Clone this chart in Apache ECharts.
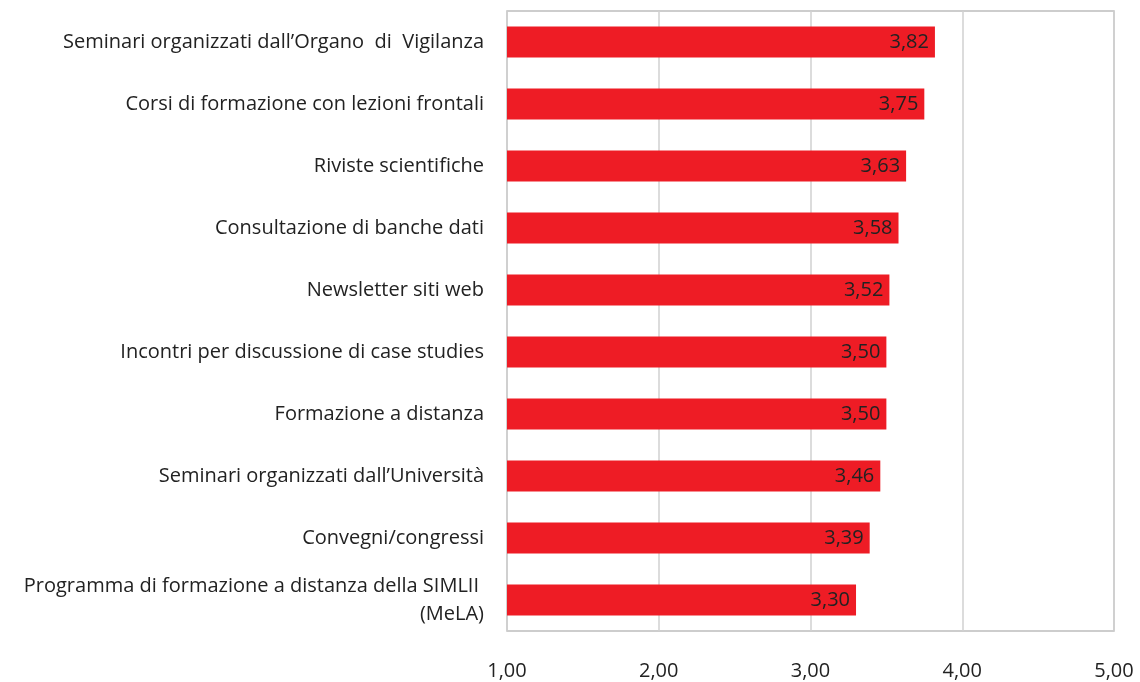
<!DOCTYPE html>
<html>
<head>
<meta charset="utf-8">
<script src="https://cdn.jsdelivr.net/npm/echarts@6/dist/echarts.min.js"></script>
<style>
  html, body { margin: 0; padding: 0; background: #fff; }
  #chart { width: 1140px; height: 682px; }
</style>
</head>
<body>
<div id="chart"></div>
<script>
const categories = [
  'Seminari organizzati dall’Organo  di  Vigilanza',
  'Corsi di formazione con lezioni frontali',
  'Riviste scientifiche',
  'Consultazione di banche dati',
  'Newsletter siti web',
  'Incontri per discussione di case studies',
  'Formazione a distanza',
  'Seminari organizzati dall’Università',
  'Convegni/congressi',
  'Programma di formazione a distanza della SIMLII\n(MeLA)'
]
const values = [3.82, 3.75, 3.63, 3.58, 3.52, 3.50, 3.50, 3.46, 3.39, 3.30]
const xTicks = { min: 1, max: 5, interval: 1 }

const fmt = v => v.toFixed(2).replace('.', ',')
const font = '"Open Sans", "Noto Sans", sans-serif'

// multi-line labels: the first line gets a bit of right padding so that
// both lines end at the same x
const catLabel = v => {
  const lines = v.split('\n')
  if (lines.length < 2) return v
  return '{a|' + lines[0] + '}\n{b|' + lines[1] + '}'
}

const chart = echarts.init(document.getElementById('chart'))
chart.setOption({
  animation: false,
  textStyle: { fontFamily: font },
  grid: {
    left: 507, right: 26, top: 11, bottom: 51,
    show: true, borderColor: '#bdbdbd', borderWidth: 1.5,
    containLabel: false
  },
  xAxis: {
    type: 'value',
    min: xTicks.min, max: xTicks.max, interval: xTicks.interval,
    axisLine: { show: false },
    axisTick: { show: false },
    splitLine: { lineStyle: { color: '#d0d0d0', width: 1.5 } },
    axisLabel: { formatter: fmt, color: '#222', fontSize: 20, margin: 30, fontFamily: font }
  },
  yAxis: {
    type: 'category',
    inverse: true,
    data: categories,
    axisLine: { show: false },
    axisTick: { show: false },
    axisLabel: {
      color: '#222', fontSize: 20, margin: 23, lineHeight: 28, fontFamily: font,
      formatter: catLabel,
      rich: {
        a: { fontSize: 20, lineHeight: 28, color: '#222', fontFamily: font, padding: [0, 5, 0, 0] },
        b: { fontSize: 20, lineHeight: 28, color: '#222', fontFamily: font }
      }
    }
  },
  series: [{
    type: 'bar',
    data: values,
    barWidth: 31,
    itemStyle: { color: '#ee1c25' },
    label: {
      show: true, position: 'insideRight', distance: 6,
      formatter: p => fmt(p.value),
      color: '#222', fontSize: 20, fontFamily: font
    }
  }]
})
</script>
</body>
</html>
